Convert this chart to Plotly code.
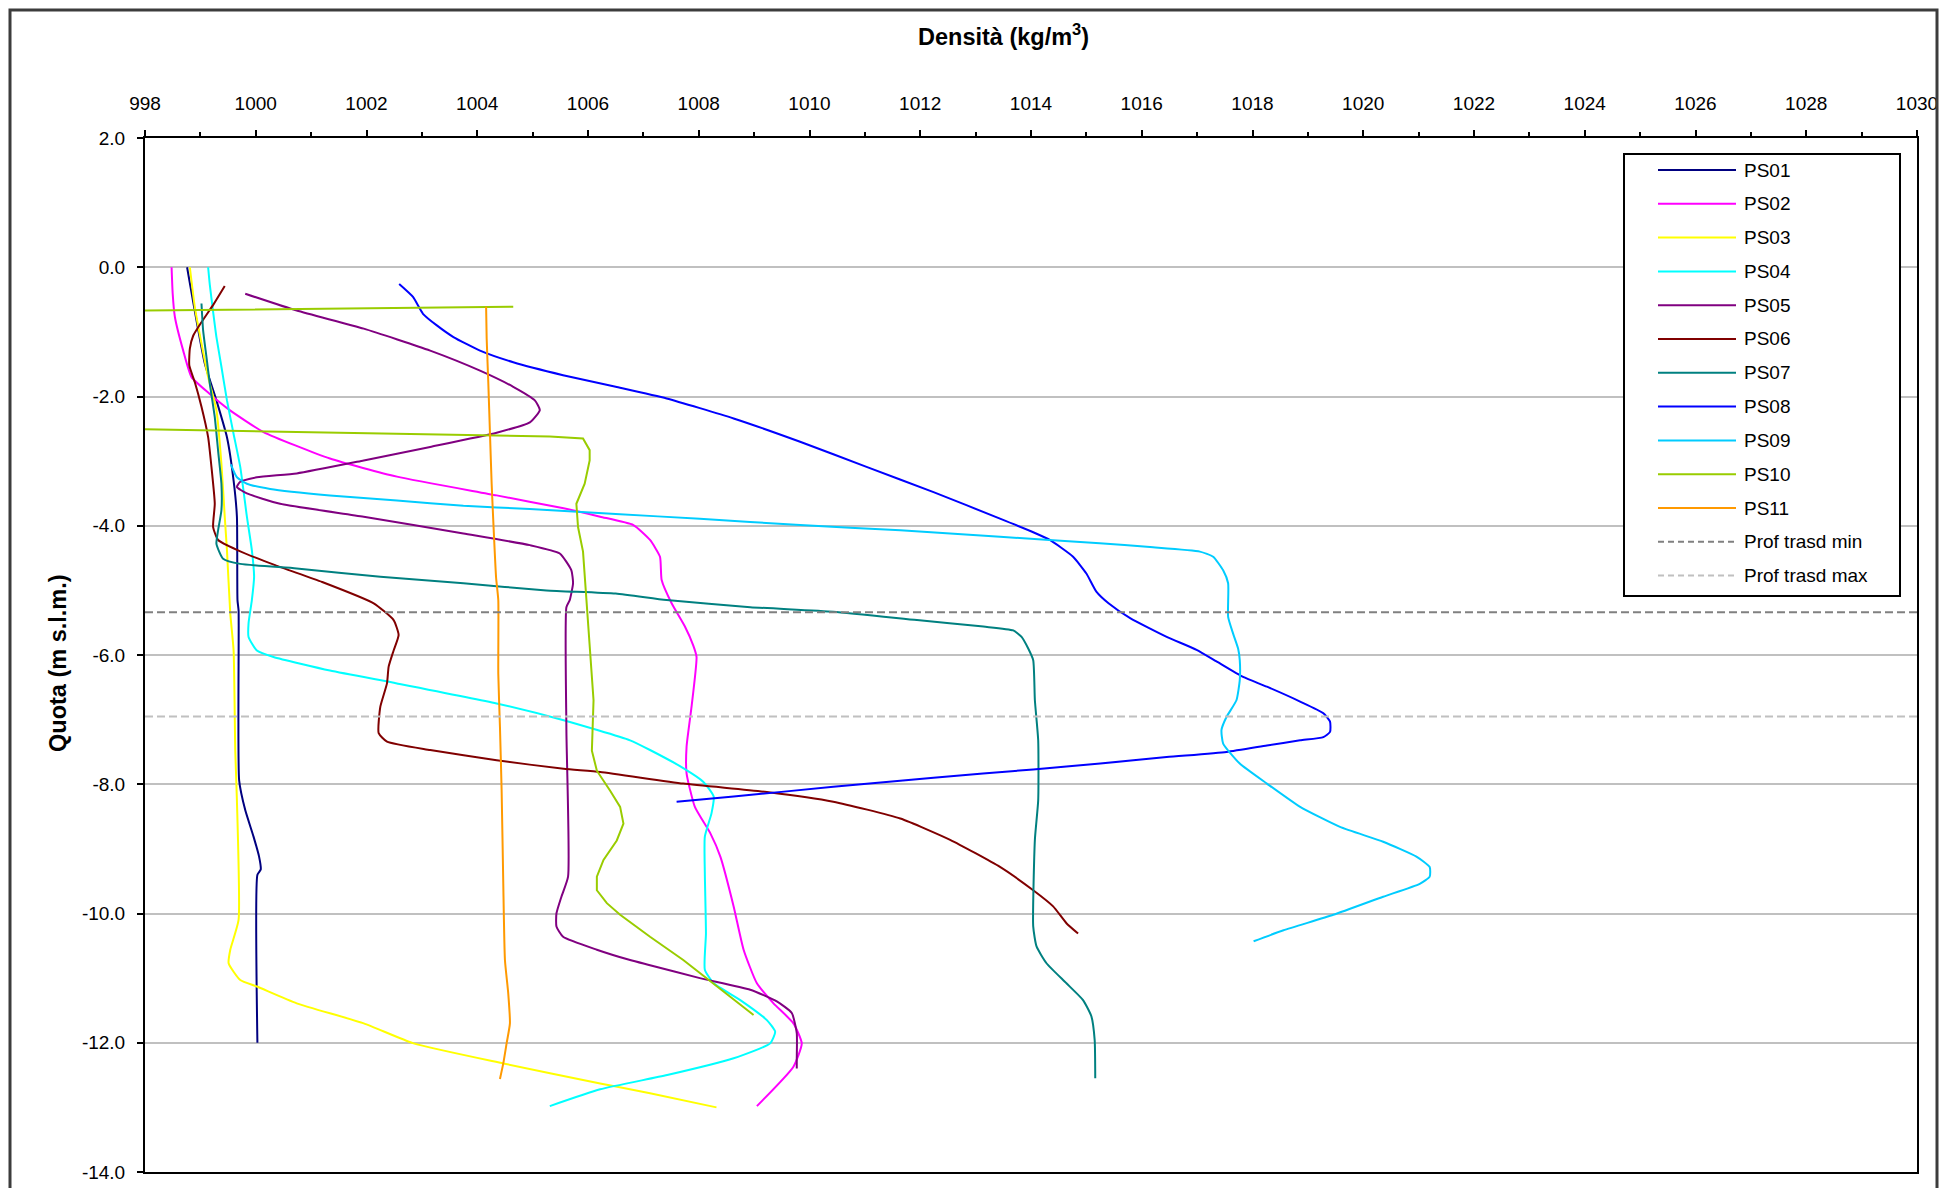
import plotly.graph_objects as go

# ---------------- data: density profiles (kg/m3) vs elevation (m s.l.m.) ----------------
series_names = ["PS01", "PS02", "PS03", "PS04", "PS05", "PS06",
                "PS07", "PS08", "PS09", "PS10", "PS11"]

ps01_density = [998.76, 999.08, 999.29, 999.48, 999.60, 999.66, 999.67, 999.69, 999.70,
                999.81, 999.96, 1000.06, 1000.09, 1000.03, 1000.03]
ps01_quota = [0.0, -1.49, -2.06, -2.63, -3.30, -3.86, -5.15, -5.31, -7.94,
              -8.40, -8.81, -9.12, -9.32, -9.40, -12.0]

ps02_density = [998.48, 998.50, 998.54, 998.69, 998.84, 999.17, 999.53, 1000.14, 1001.34,
                1002.55, 1004.35, 1005.56, 1006.22, 1006.82, 1007.12, 1007.30, 1007.33,
                1007.51, 1007.75, 1007.90, 1007.96, 1007.87, 1007.78, 1007.78, 1007.93,
                1008.21, 1008.39, 1008.63, 1008.81, 1009.05, 1009.35, 1009.71, 1009.86,
                1009.71, 1009.05]
ps02_quota = [0.0, -0.41, -0.77, -1.29, -1.70, -1.96, -2.21, -2.55, -2.96,
              -3.24, -3.53, -3.73, -3.86, -3.99, -4.22, -4.48, -4.84,
              -5.20, -5.56, -5.85, -6.03, -6.80, -7.42, -7.83, -8.35,
              -8.76, -9.12, -9.89, -10.56, -11.08, -11.39, -11.70, -12.01,
              -12.37, -12.98]

ps03_density = [998.81, 998.90, 999.02, 999.14, 999.29, 999.38, 999.44, 999.48, 999.54,
                999.60, 999.63, 999.66, 999.69, 999.54, 999.51, 999.72, 1000.02, 1000.74,
                1001.95, 1002.85, 1004.47, 1006.22, 1007.12, 1008.32]
ps03_quota = [0.0, -0.62, -1.18, -1.70, -2.21, -3.04, -3.86, -4.38, -5.36,
              -5.93, -7.48, -8.25, -10.10, -10.56, -10.77, -11.03, -11.13, -11.39,
              -11.70, -12.01, -12.32, -12.63, -12.78, -13.0]

ps04_density = [999.14, 999.17, 999.22, 999.29, 999.38, 999.48, 999.60, 999.72, 999.84,
                999.93, 999.97, 999.93, 999.87, 999.87, 1000.02, 1000.32, 1001.34, 1002.55,
                1004.35, 1005.56, 1006.76, 1007.12, 1007.72, 1008.08, 1008.27, 1008.23,
                1008.11, 1008.11, 1008.13, 1008.11, 1008.27, 1008.75, 1009.23, 1009.38,
                1009.29, 1008.63, 1007.43, 1006.22, 1005.31]
ps04_quota = [0.0, -0.27, -0.62, -1.08, -1.54, -2.06, -2.58, -3.09, -3.86,
              -4.38, -4.79, -5.15, -5.51, -5.72, -5.93, -6.03, -6.24, -6.44,
              -6.75, -7.01, -7.32, -7.47, -7.75, -7.96, -8.19, -8.45,
              -8.81, -9.38, -10.31, -10.87, -11.08, -11.34, -11.65, -11.83,
              -12.01, -12.24, -12.50, -12.72, -12.98]

ps05_density = [999.81, 1000.74, 1001.95, 1003.15, 1004.05, 1004.65, 1005.04, 1005.13,
                1004.95, 1004.35, 1003.15, 1001.95, 1000.74, 1000.02, 999.72, 999.66,
                999.84, 1000.44, 1001.95, 1003.75, 1004.95, 1005.49, 1005.70, 1005.73,
                1005.67, 1005.61, 1005.61, 1005.64, 1005.52, 1005.43, 1005.43, 1005.55,
                1006.16, 1006.76, 1007.12, 1008.02, 1008.93, 1009.41, 1009.68, 1009.77,
                1009.77, 1009.77]
ps05_quota = [-0.41, -0.67, -0.95, -1.29, -1.60, -1.85, -2.06, -2.21,
              -2.40, -2.56, -2.78, -2.99, -3.19, -3.25, -3.32, -3.40,
              -3.50, -3.66, -3.86, -4.12, -4.30, -4.43, -4.69, -4.89,
              -5.15, -5.26, -7.16, -9.43, -9.74, -10.0, -10.20, -10.36,
              -10.56, -10.72, -10.80, -11.00, -11.18, -11.36, -11.54, -11.85,
              -12.26, -12.40]

ps06_density = [999.44, 999.24, 999.02, 998.87, 998.81, 998.80, 998.90, 999.02, 999.14,
                999.20, 999.26, 999.23, 999.32, 999.68, 1000.35, 1001.20, 1002.13, 1002.49,
                1002.58, 1002.49, 1002.40, 1002.37, 1002.25, 1002.22, 1002.37, 1003.15,
                1004.35, 1005.56, 1006.22, 1007.72, 1009.23, 1010.43, 1011.64, 1012.54,
                1013.44, 1014.04, 1014.40, 1014.64, 1014.85]
ps06_quota = [-0.29, -0.57, -0.85, -1.06, -1.26, -1.52, -1.78, -2.16, -2.63,
              -3.09, -3.66, -4.02, -4.22, -4.38, -4.61, -4.87, -5.20, -5.46,
              -5.69, -5.93, -6.18, -6.44, -6.80, -7.21, -7.34, -7.47,
              -7.63, -7.76, -7.81, -7.99, -8.12, -8.27, -8.53, -8.86,
              -9.28, -9.64, -9.89, -10.15, -10.31]

ps07_density = [999.02, 999.05, 999.11, 999.17, 999.26, 999.32, 999.38, 999.38, 999.32,
                999.29, 999.41, 999.72, 1000.74, 1002.25, 1003.75, 1005.25, 1006.50,
                1007.42, 1008.93, 1010.43, 1011.94, 1013.14, 1013.68, 1013.83, 1013.95,
                1014.04, 1014.07, 1014.13, 1014.13, 1014.07, 1014.04, 1014.10, 1014.28,
                1014.64, 1014.94, 1015.09, 1015.15, 1015.16]
ps07_quota = [-0.56, -0.98, -1.39, -1.80, -2.32, -2.84, -3.35, -3.76, -4.07,
              -4.28, -4.51, -4.59, -4.66, -4.79, -4.89, -5.00, -5.05,
              -5.15, -5.26, -5.33, -5.46, -5.56, -5.62, -5.72, -5.90,
              -6.08, -6.70, -7.32, -8.25, -8.86, -10.20, -10.51, -10.77,
              -11.08, -11.34, -11.59, -11.96, -12.55]

ps08_density = [1002.59, 1002.84, 1003.02, 1003.27, 1003.57, 1004.05, 1004.65, 1005.55,
                1006.50, 1007.42, 1008.63, 1009.83, 1011.03, 1012.24, 1013.44, 1014.04,
                1014.34, 1014.76, 1015.00, 1015.18, 1015.40, 1015.79, 1016.45, 1016.99,
                1017.35, 1017.83, 1018.26, 1018.86, 1019.28, 1019.40, 1019.40, 1019.28,
                1018.86, 1018.26, 1017.53, 1016.45, 1015.25, 1014.04, 1012.24, 1010.43,
                1008.63, 1007.60]
ps08_quota = [-0.26, -0.46, -0.72, -0.90, -1.08, -1.29, -1.47, -1.67,
              -1.85, -2.03, -2.34, -2.70, -3.09, -3.48, -3.89, -4.10,
              -4.22, -4.48, -4.74, -5.02, -5.20, -5.43, -5.72, -5.92,
              -6.10, -6.34, -6.49, -6.72, -6.90, -7.03, -7.19, -7.27,
              -7.32, -7.40, -7.50, -7.58, -7.68, -7.77, -7.90, -8.04,
              -8.19, -8.27]

ps09_density = [999.55, 999.66, 999.84, 1000.26, 1001.34, 1002.55, 1003.75, 1004.95,
                1006.50, 1008.02, 1009.83, 1011.64, 1013.44, 1015.24, 1016.15, 1017.05,
                1017.29, 1017.47, 1017.56, 1017.56, 1017.65, 1017.74, 1017.77, 1017.77,
                1017.71, 1017.53, 1017.44, 1017.47, 1017.77, 1018.26, 1018.86, 1019.58,
                1020.36, 1020.96, 1021.20, 1021.20, 1021.02, 1020.36, 1019.46, 1018.56,
                1018.02]
ps09_quota = [-3.05, -3.25, -3.35, -3.43, -3.53, -3.61, -3.69, -3.74,
              -3.82, -3.89, -3.99, -4.07, -4.17, -4.27, -4.33, -4.40,
              -4.48, -4.69, -4.89, -5.41, -5.67, -5.90, -6.08, -6.39,
              -6.70, -6.96, -7.16, -7.37, -7.68, -7.99, -8.35, -8.66,
              -8.89, -9.12, -9.28, -9.43, -9.54, -9.74, -10.02, -10.26,
              -10.43]

# PS10 has two readings below the axis minimum; their segments run off the left edge
ps10_density = [1004.65, 997.0, 997.0, 1000.92, 1005.31, 1005.91, 1006.03, 1006.03,
                1005.94, 1005.79, 1005.82, 1005.91, 1005.98, 1006.04, 1006.10, 1006.07,
                1006.16, 1006.40, 1006.58, 1006.64, 1006.52, 1006.28, 1006.16, 1006.16,
                1006.34, 1006.58, 1007.12, 1007.72, 1008.33, 1008.99]
ps10_quota = [-0.61, -0.68, -2.49, -2.55, -2.62, -2.65, -2.83, -2.99,
              -3.35, -3.66, -4.02, -4.40, -5.31, -5.93, -6.70, -7.48,
              -7.79, -8.10, -8.35, -8.61, -8.87, -9.17, -9.43, -9.64,
              -9.84, -10.02, -10.36, -10.72, -11.13, -11.57]

ps11_density = [1004.16, 1004.17, 1004.20, 1004.23, 1004.26, 1004.30, 1004.34, 1004.38,
                1004.38, 1004.41, 1004.44, 1004.47, 1004.50, 1004.56, 1004.59, 1004.53,
                1004.47, 1004.41]
ps11_quota = [-0.61, -1.10, -1.80, -2.58, -3.35, -4.12, -4.80, -5.15,
              -6.29, -7.11, -8.09, -9.54, -10.72, -11.24, -11.70, -12.01,
              -12.32, -12.56]

# transducer depth limits (m s.l.m.)
prof_trasd_min = -5.34
prof_trasd_max = -6.95

# axis ticks
density_tick_vals = [998, 1000, 1002, 1004, 1006, 1008, 1010, 1012, 1014,
                     1016, 1018, 1020, 1022, 1024, 1026, 1028, 1030]
quota_tick_vals = [2, 0, -2, -4, -6, -8, -10, -12, -14]
quota_tick_text = ["2.0", "0.0", "-2.0", "-4.0", "-6.0", "-8.0", "-10.0", "-12.0", "-14.0"]

# ---------------- styling ----------------
series_colors = ["#000080", "#FF00FF", "#FFFF00", "#00FFFF", "#800080", "#800000",
                 "#008080", "#0000FF", "#00CCFF", "#99CC00", "#FF9900"]
series_data = [
    (ps01_density, ps01_quota), (ps02_density, ps02_quota), (ps03_density, ps03_quota),
    (ps04_density, ps04_quota), (ps05_density, ps05_quota), (ps06_density, ps06_quota),
    (ps07_density, ps07_quota), (ps08_density, ps08_quota), (ps09_density, ps09_quota),
    (ps10_density, ps10_quota), (ps11_density, ps11_quota),
]
# straight segments for PS10 (its off-scale jumps must stay flat), smoothed curves elsewhere
series_smooth = [True] * 9 + [False, True]
FONT = "Arial, 'Liberation Sans', sans-serif"

W, H = 1943, 1188
ML, MR, MT, MB = 145, 26, 138, 16
PW, PH = W - ML - MR, H - MT - MB


def paper_x(px):
    return (px - ML) / PW


def paper_y(py):
    return (H - MB - py) / PH


fig = go.Figure()

for name, color, smooth, (dens, quota) in zip(series_names, series_colors,
                                               series_smooth, series_data):
    line = dict(color=color, width=2)
    if smooth:
        line.update(shape="spline", smoothing=0.5)
    fig.add_trace(go.Scatter(x=dens, y=quota, mode="lines", name=name,
                             line=line, showlegend=False))

limit_lines = [("Prof trasd min", prof_trasd_min, "#808080"),
               ("Prof trasd max", prof_trasd_max, "#C0C0C0")]
for name, level, color in limit_lines:
    fig.add_trace(go.Scatter(x=[density_tick_vals[0], density_tick_vals[-1]], y=[level, level],
                             mode="lines", name=name, showlegend=False,
                             line=dict(color=color, width=2, dash="8px,4px")))

shapes = []
annotations = []

# outer chart frame
shapes.append(dict(type="rect", xref="paper", yref="paper",
                   x0=paper_x(10), x1=paper_x(1937), y0=paper_y(1205), y1=paper_y(10),
                   line=dict(color="#3c3c3c", width=3), fillcolor="rgba(0,0,0,0)"))

# legend box
LX0, LX1, LY0, LY1 = 1624, 1900, 154, 596
shapes.append(dict(type="rect", xref="paper", yref="paper",
                   x0=paper_x(LX0), x1=paper_x(LX1), y0=paper_y(LY1), y1=paper_y(LY0),
                   line=dict(color="#000000", width=2), fillcolor="white"))
legend_entries = [(n, c, "solid") for n, c in zip(series_names, series_colors)]
legend_entries += [(n, c, "dash") for n, _, c in limit_lines]
row0, row_step = 170, 33.8
for i, (name, color, dash) in enumerate(legend_entries):
    yy = row0 + i * row_step
    shapes.append(dict(type="line", xref="paper", yref="paper",
                       x0=paper_x(1658), x1=paper_x(1736), y0=paper_y(yy), y1=paper_y(yy),
                       line=dict(color=color, width=2,
                                 dash="6px,4px" if dash == "dash" else "solid")))
    annotations.append(dict(xref="paper", yref="paper", x=paper_x(1742), y=paper_y(yy),
                            text=name, showarrow=False, xanchor="left", yanchor="middle",
                            font=dict(family=FONT, size=19, color="#000000")))

# axis titles
annotations.append(dict(xref="paper", yref="paper", x=paper_x(1003), y=paper_y(35),
                        text="<b>Densità (kg/m<sup>3</sup>)</b>", showarrow=False,
                        xanchor="center", yanchor="middle",
                        font=dict(family=FONT, size=23.5, color="#000000")))
annotations.append(dict(xref="paper", yref="paper", x=paper_x(58), y=paper_y(663),
                        text="<b>Quota (m s.l.m.)</b>", showarrow=False, textangle=-90,
                        xanchor="center", yanchor="middle",
                        font=dict(family=FONT, size=23.5, color="#000000")))

fig.update_layout(
    width=W, height=H,
    margin=dict(l=ML, r=MR, t=MT, b=MB, autoexpand=False),
    paper_bgcolor="white", plot_bgcolor="white",
    font=dict(family=FONT, size=19, color="#000000"),
    showlegend=False,
    shapes=shapes,
    annotations=annotations,
    xaxis=dict(
        side="top", range=[998, 1030], tickmode="array", tickvals=density_tick_vals,
        ticks="outside", ticklen=6, tickwidth=1.5, tickcolor="#000000",
        minor=dict(dtick=1, tick0=998, ticks="outside", ticklen=4, tickwidth=1.5,
                   tickcolor="#000000", showgrid=False),
        showline=True, linecolor="#000000", linewidth=2, mirror=True,
        showgrid=False, zeroline=False, ticklabelstandoff=12,
        tickfont=dict(family=FONT, size=19, color="#000000"),
    ),
    yaxis=dict(
        range=[-14, 2], tickmode="array", tickvals=quota_tick_vals, ticktext=quota_tick_text,
        ticks="outside", ticklen=6, tickwidth=1.5, tickcolor="#000000",
        showline=True, linecolor="#000000", linewidth=2, mirror=True,
        showgrid=True, gridcolor="#C0C0C0", gridwidth=1.5, zeroline=False,
        ticklabelstandoff=8,
        tickfont=dict(family=FONT, size=19, color="#000000"),
    ),
)

fig.write_html("out.html")
